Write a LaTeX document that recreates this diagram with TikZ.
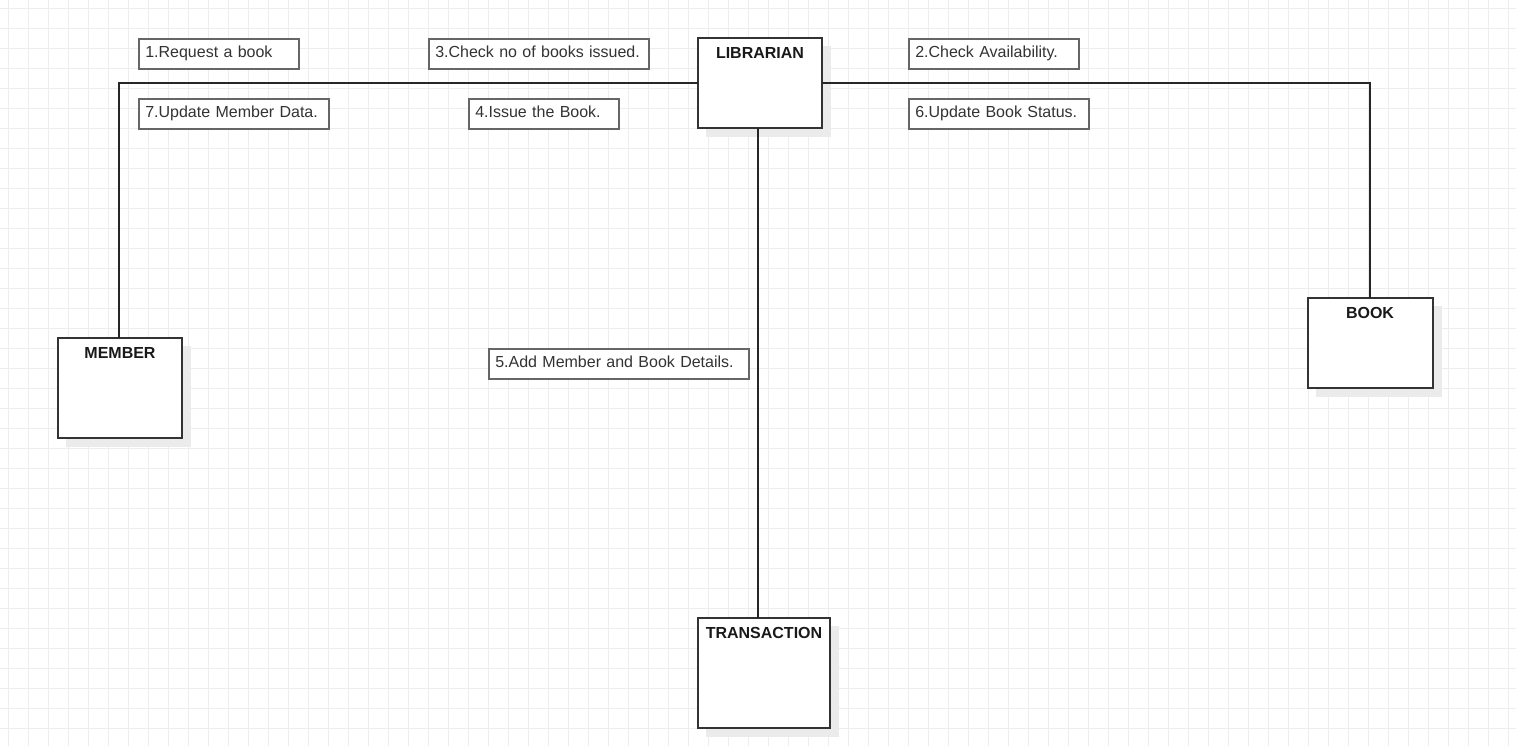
\documentclass[tikz,border=0pt]{standalone}
\usepackage{fontspec}
\setmainfont{Liberation Sans}
\begin{document}
\begin{tikzpicture}[x=1pt,y=-1pt,
  lbl/.style={draw=black!60,line width=1.6pt,fill=white,anchor=north west,inner sep=0pt,
    minimum height=30pt,text width=#1,align=left,font=\fontsize{16}{19}\selectfont,text=black!80,
    text height=12pt,text depth=4pt},
  title/.style={anchor=center,font=\fontsize{16}{19}\selectfont\bfseries,text=black!90},
  ebox/.style={draw=black!80,line width=1.6pt,fill=white},
  conn/.style={draw=black!85,line width=1.2pt},
  shadow/.style={fill=black!8,draw=none}]
\useasboundingbox (0,0) rectangle (1516,746);
\fill[white] (0,0) rectangle (1516,746);
% grid
\foreach \i in {0,...,75} {\draw[black!7,line width=1pt] (8.5+20*\i,0) -- (8.5+20*\i,746);}
\foreach \j in {0,...,37} {\draw[black!7,line width=1pt] (0,8.5+20*\j) -- (1516,8.5+20*\j);}
% shadows
\fill[shadow] (706,46) rectangle (831,137);
\fill[shadow] (66,346) rectangle (191,447);
\fill[shadow] (706,626) rectangle (839,737);
\fill[shadow] (1316,306) rectangle (1442,397);
% entity boxes
\path[ebox] (698,38) rectangle (822,128);
\coordinate (libL) at (698,83);
\coordinate (libR) at (822,83);
\coordinate (libB) at (758,128);
\node[title] (librarian) at (760,53) {LIBRARIAN};
\path[ebox] (58,338) rectangle (182,438);
\coordinate (memT) at (119,338);
\node[title] (member) at (120,353) {MEMBER};
\path[ebox] (698,618) rectangle (830,728);
\coordinate (traT) at (758,618);
\node[title] (transaction) at (764,633) {TRANSACTION};
\path[ebox] (1308,298) rectangle (1433,388);
\coordinate (bookT) at (1370,298);
\node[title] (book) at (1370,313) {BOOK};
% connectors
\coordinate (c1) at (119,83);
\coordinate (c2) at (1370,83);
\draw[conn] (libL) -- (c1) -- (memT);
\draw[conn] (libR) -- (c2) -- (bookT);
\draw[conn] (libB) -- (traT);
% labels
\node[lbl=157pt,minimum width=160pt] (l1) at (138,38) {\hspace*{5pt}1.Request a book};
\node[lbl=187pt,minimum width=190pt] (l7) at (138,98) {\hspace*{5pt}7.Update Member Data.};
\node[lbl=217pt,minimum width=220pt] (l3) at (428,38) {\hspace*{5pt}3.Check no of books issued.};
\node[lbl=147pt,minimum width=150pt] (l4) at (468,98) {\hspace*{5pt}4.Issue the Book.};
\node[lbl=167pt,minimum width=170pt] (l2) at (908,38) {\hspace*{5pt}2.Check Availability.};
\node[lbl=177pt,minimum width=180pt] (l6) at (908,98) {\hspace*{5pt}6.Update Book Status.};
\node[lbl=257pt,minimum width=260pt] (l5) at (488,348) {\hspace*{5pt}5.Add Member and Book Details.};
\end{tikzpicture}
\end{document}
